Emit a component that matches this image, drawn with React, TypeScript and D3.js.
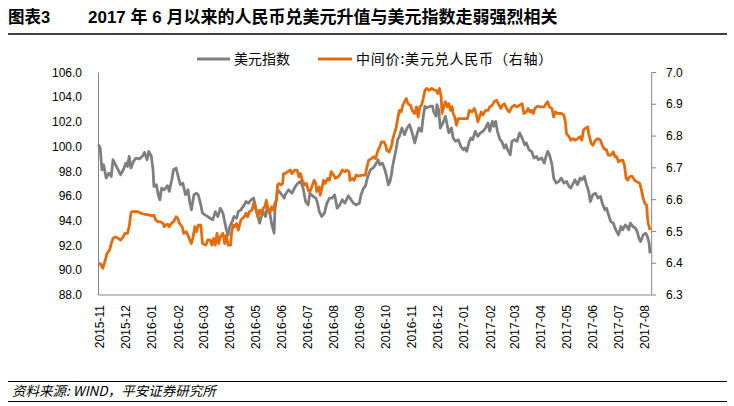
import React from "react";
import * as d3 from "d3";

const W = 734;
const H = 406;

const startDate = new Date(2015, 9, 30);
const endDate = new Date(2017, 7, 9);

const figLabel = "图表3";
const title = "2017 年 6 月以来的人民币兑美元升值与美元指数走弱强烈相关";
const source = "资料来源: WIND，平安证券研究所";
const seriesNames = ["美元指数", "中间价:美元兑人民币（右轴）"];

const leftTicks = [88, 90, 92, 94, 96, 98, 100, 102, 104, 106];
const rightTicks = [6.3, 6.4, 6.5, 6.6, 6.7, 6.8, 6.9, 7.0];

// day offsets from 2015-10-30
const usdDays = [
  0, 2, 4, 6, 9, 12, 15, 17, 20, 23, 26, 30, 32, 34, 36, 38, 41, 44, 48, 52, 54, 57, 59, 62, 64, 65, 68, 70, 72, 74,
  77, 81, 83, 86, 88, 91, 94, 96, 99, 102, 105, 107, 109, 112, 115, 117, 120, 122, 125, 128, 131, 134, 137, 140, 143,
  146, 148, 150, 152, 154, 156, 159, 162, 164, 167, 171, 173, 176, 179, 182, 185, 187, 189, 191, 193, 196, 198, 201,
  203, 206, 207, 210, 212, 215, 218,
  219, 223, 227, 231, 234, 237, 240, 243, 246, 248, 252, 255, 257, 259, 262, 265, 268, 271, 274, 277, 280, 283, 286,
  289, 293, 295, 299, 302, 306, 308, 311, 313, 316, 319, 322, 325, 328, 330, 333, 336, 338, 340, 342, 344, 345, 347,
  349, 351, 353, 356, 359, 362, 365, 368, 371, 373, 376, 379, 381, 383, 385, 389, 392, 393, 396, 397, 399, 401, 404,
  407, 409, 411, 414, 416, 419, 422, 425, 428, 430, 432, 435,
  437, 439, 442, 445, 448, 451, 454, 457, 459, 462, 464, 466, 468, 471, 473, 476, 478, 480, 483, 485, 488, 491, 494,
  497, 500, 502, 505, 508, 511, 514, 516, 520, 523, 525, 527, 529, 532, 534, 537, 540, 543, 546, 549, 552, 554, 557,
  559, 562, 565, 567, 570, 572, 575, 577, 580, 583, 586, 589, 591, 594, 596, 599, 601, 604, 606, 608, 610, 613, 615,
  618, 620, 622, 624, 627, 630, 632, 634, 636, 639, 642, 644, 646, 647,
];
const usdIndex = [
  100.16, 99.89, 98.13, 98.54, 97.46, 97.86, 97.59, 98.94, 98.54, 98.13, 97.73, 98.27, 98.67, 98.4, 99.21, 98.27, 98.81,
  99.08, 99.0, 99.27, 99.54, 98.94, 99.62, 99.21, 98.13, 96.78, 96.92, 96.11, 95.7, 96.65, 96.51, 96.84, 96.38, 97.32,
  98.13, 98.27, 97.46, 96.92, 97.05, 96.11, 96.51, 95.56, 94.89, 96.11, 96.24, 96.11, 95.29, 94.62, 94.48, 94.35, 94.21,
  94.08, 94.75, 94.35, 95.02, 94.62, 93.94, 93.27, 92.86, 93.54, 93.81, 94.35, 94.21, 94.75, 94.89, 95.29, 95.56, 95.43,
  95.7, 95.84, 94.89, 94.35, 93.81, 94.35, 94.75, 94.35, 95.16, 94.62, 93.81, 93.0, 94.89, 96.51, 96.38, 96.11, 95.84,
  96.11, 96.51, 96.24, 96.78, 97.05, 97.19, 96.65, 95.56, 95.29, 96.24, 95.97, 95.84, 95.43, 94.75, 94.35, 94.62, 95.43,
  95.84, 95.84, 96.11, 95.02, 95.29, 95.7, 95.43, 96.02, 95.84, 95.43, 95.29, 95.43, 96.11, 96.65, 96.78, 97.59, 98.13,
  98.27, 98.54, 98.94, 98.54, 98.67, 98.13, 97.59, 96.92, 97.19, 97.86, 98.4, 99.08, 99.75, 100.57, 100.84, 101.51,
  100.97, 101.51, 101.78, 101.11, 100.3, 100.84, 101.51, 101.24, 102.46, 103.27, 103.13, 103.27, 103.27, 102.86, 102.46,
  103.4, 103.0, 101.51, 101.92, 102.46, 101.78, 101.11, 101.51, 100.7, 100.43, 100.57, 100.03, 99.75, 99.89, 99.62,
  100.43,
  100.7, 100.57, 101.24, 100.84, 101.11, 101.24, 101.51, 101.92, 101.24, 102.05, 101.65, 102.05, 101.24, 100.57, 100.43,
  99.89, 100.16, 99.75, 99.35, 100.43, 100.57, 100.43, 101.11, 100.7, 100.16, 100.3, 99.75, 99.62, 99.08, 99.21, 98.94,
  99.08, 98.67, 99.21, 99.62, 99.35, 98.54, 97.46, 97.05, 97.19, 97.46, 97.05, 97.19, 96.78, 96.65, 97.05, 97.32, 96.92,
  97.46, 97.32, 97.59, 97.05, 96.38, 95.56, 96.11, 96.24, 95.84, 95.97, 95.43, 94.89, 95.02, 94.35, 93.94, 93.81, 93.4,
  93.13, 92.86, 93.54, 93.27, 93.67, 93.54, 93.27, 93.81, 93.54, 93.4, 93.13, 92.59, 92.32, 92.86, 93.0, 92.73, 92.19,
  91.37,
];

const cnyDays = [
  0, 2, 5, 8, 10, 13, 15, 17, 20, 23, 26, 29, 31, 34, 36, 38, 39, 42, 46, 50, 54, 57, 60, 63, 65, 67, 70, 73, 76, 77, 79,
  81, 83, 86, 88, 91, 93, 95, 98, 100, 103, 105, 107, 109, 111, 113, 115, 117, 120, 121, 122, 126, 128, 131, 133, 135,
  137, 139, 141, 143, 146, 148, 150, 152, 155, 156, 158, 160, 162, 164, 167, 169, 171, 173, 175, 177, 180, 182, 185, 187,
  189, 191, 193, 195, 197, 199, 201, 203, 205, 207, 209, 210, 212, 214, 216, 217,
  219, 222, 225, 227, 230, 233, 235, 237, 239, 242, 244, 246, 248, 251, 253, 255, 256, 259, 260, 262, 264, 266, 269, 271,
  273, 276, 278, 281, 284, 286, 289, 291, 294, 295, 298, 300, 302, 305, 309, 313, 315, 317, 320, 323, 325, 328, 330, 332,
  335, 337, 338, 341, 344, 345, 347, 349, 351, 353, 355, 357, 359, 361, 363, 366, 368, 371, 373, 375, 377, 379, 381, 383,
  385, 388, 391, 393, 396, 398, 400, 402, 403, 405, 407, 409, 411, 413, 415, 416, 418, 420, 422, 426, 430,
  433, 435, 438, 441, 443, 445, 447, 449, 451, 454, 457, 459, 462, 464, 467, 469, 472, 474, 476, 478, 480, 482, 485, 488,
  491, 494, 497, 499, 502, 504, 506, 508, 510, 512, 515, 518, 520, 523, 525, 527, 529, 532, 534, 536, 539, 543, 546, 548,
  549, 552, 554, 557, 559, 562, 565, 567, 569, 571, 574, 575, 578, 580, 583, 586, 589, 591, 593, 596, 598, 601, 604, 606,
  608, 610, 613, 615, 617, 619, 621, 623, 626, 629, 632, 635, 637, 639, 641, 643, 644, 645, 647,
];
const cnyRate = [
  6.399, 6.399, 6.384, 6.41, 6.431, 6.441, 6.462, 6.478, 6.483, 6.478, 6.473, 6.483, 6.494, 6.494, 6.515, 6.557, 6.562,
  6.562, 6.562, 6.557, 6.554, 6.553, 6.551, 6.549, 6.551, 6.536, 6.53, 6.53, 6.525, 6.515, 6.52, 6.523, 6.515, 6.527,
  6.53, 6.546, 6.541, 6.525, 6.515, 6.494, 6.499, 6.488, 6.473, 6.462, 6.483, 6.515, 6.499, 6.52, 6.52, 6.494, 6.462,
  6.457, 6.473, 6.473, 6.457, 6.478, 6.457, 6.494, 6.462, 6.483, 6.494, 6.462, 6.488, 6.457, 6.457, 6.494, 6.52, 6.515,
  6.525, 6.504, 6.536, 6.541, 6.546, 6.557, 6.546, 6.562, 6.567, 6.588, 6.567, 6.546, 6.567, 6.557, 6.572, 6.577, 6.598,
  6.567, 6.557, 6.577, 6.567, 6.588, 6.598, 6.646, 6.651, 6.646, 6.651, 6.682,
  6.682, 6.688, 6.693, 6.682, 6.693, 6.693, 6.672, 6.682, 6.661, 6.646, 6.651, 6.63, 6.625, 6.646, 6.661, 6.651, 6.625,
  6.64, 6.614, 6.635, 6.661, 6.651, 6.667, 6.661, 6.688, 6.677, 6.667, 6.672, 6.682, 6.693, 6.688, 6.693, 6.688, 6.661,
  6.667, 6.661, 6.677, 6.674, 6.677, 6.677, 6.703, 6.724, 6.729, 6.735, 6.729, 6.756, 6.766, 6.782, 6.782, 6.771, 6.756,
  6.75, 6.771, 6.787, 6.808, 6.824, 6.855, 6.881, 6.876, 6.897, 6.908, 6.918, 6.902, 6.897, 6.881, 6.871, 6.892, 6.86,
  6.892, 6.897, 6.918, 6.944, 6.95, 6.944, 6.95, 6.946, 6.944, 6.934, 6.95, 6.923, 6.871, 6.892, 6.908, 6.892, 6.902,
  6.881, 6.892, 6.871, 6.86, 6.834, 6.855, 6.855, 6.855,
  6.855, 6.881, 6.876, 6.887, 6.871, 6.845, 6.86, 6.876, 6.866, 6.881, 6.881, 6.892, 6.897, 6.908, 6.913, 6.902, 6.887,
  6.897, 6.902, 6.892, 6.881, 6.876, 6.892, 6.897, 6.892, 6.897, 6.902, 6.871, 6.876, 6.887, 6.876, 6.881, 6.871, 6.887,
  6.894, 6.892, 6.892, 6.892, 6.902, 6.908, 6.892, 6.887, 6.86, 6.876, 6.871, 6.871, 6.866, 6.84, 6.808, 6.798, 6.787,
  6.792, 6.787, 6.792, 6.798, 6.787, 6.819, 6.824, 6.829, 6.808, 6.777, 6.771, 6.787, 6.792, 6.787, 6.771, 6.761, 6.756,
  6.74, 6.74, 6.75, 6.735, 6.735, 6.719, 6.724, 6.724, 6.709, 6.667, 6.661, 6.672, 6.674, 6.661, 6.656, 6.651, 6.63,
  6.604, 6.588, 6.583, 6.546, 6.525, 6.504,
];

const GRAY = "#7f7f7f";
const ORANGE = "#e46c0a";
const AXIS = "#868686";
const LATIN = "'Liberation Sans', Arial, 'Noto Sans CJK SC', sans-serif";
const CJK = "'Noto Sans CJK SC', 'Liberation Sans', sans-serif";

type Pt = { date: Date; v: number };

export default function App() {
  const plotL = 98.5;
  const plotR = 651.7;
  const plotT = 72.5;
  const plotB = 295;

  const x = d3.scaleTime().domain([startDate, endDate]).range([plotL, plotR]);
  const yL = d3.scaleLinear().domain([88, 106]).range([plotB, plotT]);
  const yR = d3.scaleLinear().domain([6.3, 7.0]).range([plotB, plotT]);

  const n1 = Math.min(usdDays.length, usdIndex.length);
  const usd: Pt[] = d3.range(n1).map((i) => ({ date: d3.timeDay.offset(startDate, usdDays[i]), v: usdIndex[i] }));
  const n2 = Math.min(cnyDays.length, cnyRate.length);
  const cny: Pt[] = d3.range(n2).map((i) => ({ date: d3.timeDay.offset(startDate, cnyDays[i]), v: cnyRate[i] }));

  const lineL = d3
    .line<Pt>()
    .x((d) => x(d.date))
    .y((d) => yL(d.v));
  const lineR = d3
    .line<Pt>()
    .x((d) => x(d.date))
    .y((d) => yR(d.v));

  const months = d3.timeMonth.range(new Date(2015, 10, 1), new Date(2017, 7, 2));
  const fmt = d3.timeFormat("%Y-%m");

  return (
    <svg
      width={W}
      height={H}
      style={{ position: "absolute", left: 0, top: 0, background: "#fff" }}
      fontFamily={LATIN}
    >
      <rect x={0} y={0} width={W} height={H} fill="#fff" />
      {/* header */}
      <text x={8} y={23} fontSize={16.5} fontWeight="bold" fill="#000">
        {figLabel}
      </text>
      <text x={88} y={23} fontSize={17} fontWeight="bold" fill="#000">
        {title}
      </text>
      <line x1={8} x2={727} y1={34} y2={34} stroke="#000" strokeWidth={1.3} />

      {/* legend */}
      <line x1={197} x2={230} y1={59} y2={59} stroke={GRAY} strokeWidth={3} />
      <text x={234} y={64} fontSize={14} fill="#000" fontFamily={CJK}>
        {seriesNames[0]}
      </text>
      <line x1={318} x2={352} y1={59} y2={59} stroke={ORANGE} strokeWidth={3} />
      <text x={356} y={64} fontSize={14} fill="#000" fontFamily={CJK} letterSpacing={0.8}>
        {seriesNames[1]}
      </text>

      {/* left axis labels */}
      {leftTicks.map((t) => (
        <text key={"l" + t} x={82} y={yL(t)} dy="0.35em" textAnchor="end" fontSize={12} fill="#000">
          {t.toFixed(1)}
        </text>
      ))}
      {/* right axis */}
      {rightTicks.map((t) => (
        <g key={"r" + t}>
          <line x1={plotR} x2={plotR + 4.5} y1={yR(t)} y2={yR(t)} stroke={AXIS} />
          <text x={666} y={yR(t)} dy="0.35em" fontSize={12} fill="#000">
            {t.toFixed(1)}
          </text>
        </g>
      ))}

      {/* x labels */}
      {months.map((m) => (
        <text
          key={m.toISOString()}
          transform={`translate(${x(m)},305) rotate(-90)`}
          textAnchor="end"
          dy="0.35em"
          fontSize={12}
          fill="#000"
        >
          {fmt(m)}
        </text>
      ))}

      {/* axes lines */}
      <line x1={plotL} x2={plotL} y1={plotT} y2={plotB} stroke={AXIS} />
      <line x1={plotR} x2={plotR} y1={plotT} y2={plotB} stroke={AXIS} />
      <line x1={plotL} x2={plotR} y1={plotB} y2={plotB} stroke={AXIS} />

      {/* series */}
      <path d={lineL(usd) ?? ""} fill="none" stroke={GRAY} strokeWidth={2.8} strokeLinejoin="round" />
      <path d={lineR(cny) ?? ""} fill="none" stroke={ORANGE} strokeWidth={2.8} strokeLinejoin="round" />

      {/* footer */}
      <line x1={8} x2={727} y1={381.5} y2={381.5} stroke="#000" strokeWidth={1.2} />
      <text x={12} y={396} fontSize={13.5} fontStyle="italic" fill="#000" fontFamily={CJK}>
        {source}
      </text>
      <line x1={8} x2={727} y1={401.5} y2={401.5} stroke="#000" strokeWidth={1.2} />
    </svg>
  );
}
